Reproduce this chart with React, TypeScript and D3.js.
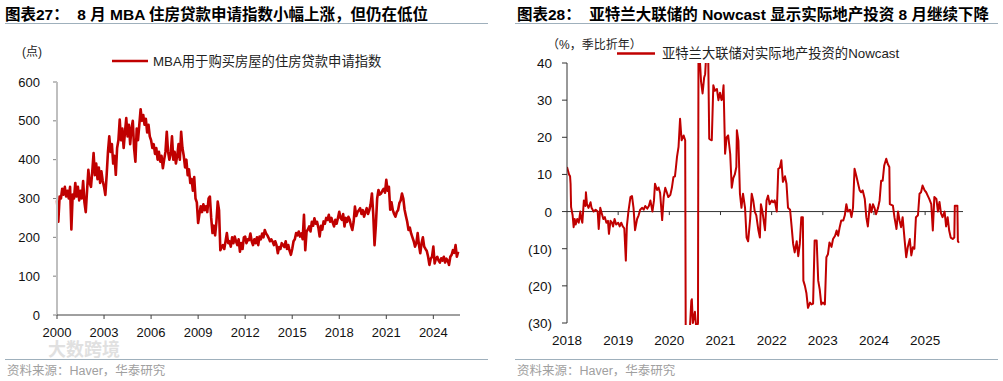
import React from 'react';
import * as d3 from 'd3';

// ---------- Left chart data: MBA purchase index (monthly) ----------
const mba2000 = [295, 240, 305, 300, 325, 310, 330, 305, 320, 300, 330, 220];
const mba2001 = [310, 300, 340, 305, 330, 295, 320, 300, 345, 290, 265, 320];
const mba2002 = [374, 340, 330, 370, 417, 360, 390, 350, 380, 340, 370, 345];
const mba2003 = [330, 309, 360, 420, 460, 420, 440, 390, 410, 361, 430, 450];
const mba2004 = [503, 450, 480, 430, 470, 507, 460, 490, 440, 480, 500, 430];
const mba2005 = [395, 480, 450, 490, 530, 500, 515, 490, 505, 470, 490, 460];
const mba2006 = [450, 430, 440, 415, 430, 400, 420, 395, 410, 378, 400, 420];
const mba2007 = [472, 420, 400, 415, 460, 400, 420, 390, 410, 440, 400, 472];
const mba2008 = [430, 410, 380, 400, 360, 375, 340, 350, 320, 355, 300, 290];
const mba2009 = [237, 260, 280, 265, 285, 270, 280, 265, 300, 305, 250, 211];
const mba2010 = [230, 205, 240, 292, 270, 167, 175, 180, 170, 190, 211, 185];
const mba2011 = [190, 176, 200, 185, 202, 190, 180, 195, 163, 185, 170, 200];
const mba2012 = [202, 185, 195, 193, 210, 190, 180, 195, 185, 200, 180, 202];
const mba2013 = [195, 210, 200, 219, 210, 205, 198, 190, 195, 189, 180, 190];
const mba2014 = [180, 159, 175, 170, 185, 180, 175, 190, 170, 180, 165, 155];
const mba2015 = [170, 190, 195, 211, 205, 215, 202, 210, 195, 258, 167, 215];
const mba2016 = [220, 228, 215, 240, 230, 249, 235, 240, 225, 202, 230, 220];
const mba2017 = [241, 235, 250, 245, 258, 240, 250, 238, 228, 245, 235, 250];
const mba2018 = [266, 250, 245, 260, 228, 250, 240, 253, 245, 230, 219, 240];
const mba2019 = [279, 255, 265, 270, 275, 260, 270, 253, 265, 275, 260, 270];
const mba2020 = [285, 313, 260, 180, 230, 300, 322, 310, 313, 320, 325, 315];
const mba2021 = [348, 320, 330, 271, 290, 270, 260, 253, 265, 270, 288, 295];
const mba2022 = [313, 300, 271, 255, 240, 219, 225, 210, 200, 190, 176, 185];
const mba2023 = [211, 180, 159, 185, 200, 176, 170, 165, 150, 129, 145, 150];
const mba2024 = [176, 133, 145, 150, 140, 135, 146, 140, 150, 135, 145, 140];
const mba2025 = [129, 150, 155, 167, 160, 180, 150, 163];

const mbaValues = [
  ...mba2000, ...mba2001, ...mba2002, ...mba2003, ...mba2004, ...mba2005, ...mba2006,
  ...mba2007, ...mba2008, ...mba2009, ...mba2010, ...mba2011, ...mba2012, ...mba2013,
  ...mba2014, ...mba2015, ...mba2016, ...mba2017, ...mba2018, ...mba2019, ...mba2020,
  ...mba2021, ...mba2022, ...mba2023, ...mba2024, ...mba2025,
];
const mbaStartYear = 2000;

const leftYTicks = [0, 100, 200, 300, 400, 500, 600];
const leftXTicks = [2000, 2003, 2006, 2009, 2012, 2015, 2018, 2021, 2024];

// ---------- Right chart data: Atlanta Fed nowcast of real residential investment ----------
const nowcastT = [
  2018.00, 2018.02, 2018.04, 2018.06, 2018.07, 2018.08, 2018.11, 2018.13, 2018.15, 2018.17,
  2018.20, 2018.23, 2018.26, 2018.28, 2018.30, 2018.33, 2018.36, 2018.37, 2018.39, 2018.42,
  2018.46, 2018.48, 2018.52, 2018.56, 2018.60, 2018.62, 2018.65, 2018.68, 2018.71, 2018.74,
  2018.77, 2018.80, 2018.82, 2018.85, 2018.88, 2018.90, 2018.93, 2018.96, 2019.00, 2019.03,
  2019.06, 2019.09, 2019.12, 2019.15, 2019.17, 2019.20, 2019.24, 2019.27, 2019.30, 2019.33,
  2019.37, 2019.40, 2019.43, 2019.47, 2019.50, 2019.53, 2019.57, 2019.60, 2019.63, 2019.67,
  2019.70, 2019.72, 2019.76, 2019.79, 2019.82, 2019.86, 2019.89, 2019.92, 2019.95, 2019.98,
  2020.02, 2020.05, 2020.08, 2020.11, 2020.13, 2020.15, 2020.18, 2020.21, 2020.24, 2020.28,
  2020.31, 2020.32, 2020.36, 2020.40, 2020.43, 2020.44, 2020.46, 2020.50, 2020.53, 2020.56,
  2020.57, 2020.60, 2020.62, 2020.65, 2020.68, 2020.70, 2020.72, 2020.76, 2020.78, 2020.81,
  2020.83, 2020.86, 2020.89, 2020.93, 2020.96, 2020.99, 2021.02, 2021.04, 2021.06, 2021.09,
  2021.12, 2021.15, 2021.19, 2021.22, 2021.25, 2021.28, 2021.31, 2021.32, 2021.35, 2021.38,
  2021.41, 2021.44, 2021.48, 2021.51, 2021.54, 2021.58, 2021.61, 2021.64, 2021.67, 2021.70,
  2021.74, 2021.77, 2021.79, 2021.82, 2021.87, 2021.90, 2021.93, 2021.96, 2022.00, 2022.03,
  2022.06, 2022.10, 2022.13, 2022.16, 2022.19, 2022.22, 2022.26, 2022.29, 2022.32, 2022.36,
  2022.39, 2022.42, 2022.45, 2022.49, 2022.52, 2022.55, 2022.58, 2022.61, 2022.62, 2022.65,
  2022.68, 2022.71, 2022.75, 2022.78, 2022.81, 2022.84, 2022.88, 2022.91, 2022.94, 2022.97,
  2023.00, 2023.04, 2023.07, 2023.10, 2023.13, 2023.17, 2023.20, 2023.24, 2023.27, 2023.30,
  2023.33, 2023.36, 2023.40, 2023.43, 2023.46, 2023.49, 2023.53, 2023.56, 2023.59, 2023.62,
  2023.66, 2023.69, 2023.72, 2023.75, 2023.78, 2023.82, 2023.85, 2023.88, 2023.92, 2023.95,
  2023.98, 2024.01, 2024.04, 2024.08, 2024.11, 2024.14, 2024.17, 2024.20, 2024.24, 2024.27,
  2024.30, 2024.31, 2024.37, 2024.40, 2024.44, 2024.47, 2024.50, 2024.53, 2024.56, 2024.60,
  2024.63, 2024.66, 2024.70, 2024.73, 2024.76, 2024.79, 2024.82, 2024.86, 2024.89, 2024.92,
  2024.95, 2024.99, 2025.02, 2025.05, 2025.08, 2025.12, 2025.15, 2025.18, 2025.22, 2025.25,
  2025.28, 2025.31, 2025.34, 2025.38, 2025.41, 2025.44, 2025.47, 2025.50, 2025.54, 2025.57,
  2025.58, 2025.63, 2025.64, 2025.66,
];
const nowcastV = [
  12, 11, 10, 9.5, 7.5, 1.2, -1, -4.2, -2, -3.5,
  -2, -3, 0, -2, -3, 3, 1.5, 5.2, 2, 1,
  2.5, 1, 0, 0.5, 0, -4.7, 1, -0.5, -2, -1.5,
  -3, -2.5, -6, -2.5, -3, -4, -2, -3.5, -3, -4,
  -3, -4, -4.5, -13.2, -4, 0, 3.9, 4.2, 1, -5,
  -2, -1, 0.5, 1, 0.5, 1.5, 0.8, 1.5, 3, 0,
  3, 7.5, 5.8, 6.5, 5, -2.3, 3.9, 6.4, 5.2, 3.9,
  4.5, 6.4, 9.3, 9.5, 12, 14.7, 17.4, 25, 19.2, 20.5,
  19.2, -32, -32, -32, -24, -23.6, -30, -27, -32, -30,
  45, 40, 35, 31.8, 36, 37, 42, 42, 19.6, 19.3,
  19.2, 34, 32.5, 33, 30, 32, 30, 31, 34, 15.6,
  20, 20.5, 15.5, 6.4, 9, 10, 12, 21.9, 19, 4.8,
  1, 4.8, 1, -7, -8, -2, 4.8, 3, 0, -1,
  -5, -7, 2, 0, -5, 3, 4.3, 2, 3, 2.5,
  3, 0, 11.5, 11.8, 13.8, 8, 9.5, 7.5, 1, 0.5,
  -4, -8.7, -11, -8, -12, -8.7, -1.5, -1.5, -18.6, -20,
  -22, -25.9, -24.5, -25, -24.8, -7.8, -7.8, -18.6, -21, -25,
  -24.5, -25, -12.3, -11.5, -8.3, -9.5, -7.4, -6.5, -5.1, -6.5,
  -4.2, -2.4, -2.4, -1, 2, 0, 0.5, -1.5, 1, 11.5,
  9.3, 7.5, 5.7, 5.2, 5.7, 3.4, -1.5, -4, 2, -0.2,
  2, 1, -0.7, 1, 3, 8.3, 8.3, 12.4, 14.2, 12.8,
  12, 2, 1.6, -1.5, -4.7, 0, -2.4, -4.2, -1.5, -7.8,
  -12.3, -9.6, -7.4, -11.8, -9.6, -10, -1.5, -1, 4.8, 5.2,
  7, 5.7, 5.2, 4.3, 3.4, 2, -5.1, 3.9, 3.4, 0,
  2.6, -0.5, -1.5, 0, -4, -1.5, -5.1, -7, -7.4, -7,
  1.6, 1.6, -8, -8.4,
];

const rightYTicks = [-30, -20, -10, 0, 10, 20, 30, 40];
const rightXTicks = [2018, 2019, 2020, 2021, 2022, 2023, 2024, 2025];

const RED = '#c00000';
const SANS = "'Liberation Sans', Arial, 'Noto Sans CJK SC', sans-serif";
const RULE = '#9fb0bc';

export default function App() {
  // Left scales
  const lx = d3.scaleLinear().domain([2000, 2025.7]).range([57, 460]);
  const ly = d3.scaleLinear().domain([0, 600]).range([315, 82]);
  const mbaPts: [number, number][] = mbaValues.map((v, i) => [mbaStartYear + i / 12, v]);
  const leftLine = d3.line<[number, number]>().x(d => lx(d[0])).y(d => ly(d[1]))(mbaPts) || '';

  // Right scales
  const rx = d3.scaleLinear().domain([2018, 2025.74]).range([567, 963]);
  const ry = d3.scaleLinear().domain([-30, 40]).range([323, 63]);
  const ncPts: [number, number][] = nowcastT.map((t, i) => [t, nowcastV[i]]);
  const rightLine = d3.line<[number, number]>().x(d => rx(d[0])).y(d => ry(d[1]))(ncPts) || '';

  const fmtR = (v: number) => (v < 0 ? `(${Math.abs(v)})` : `${v}`);

  return (
    <svg width={1003} height={381} style={{ position: 'absolute', left: 0, top: 0, background: '#fff' }}
      fontFamily={SANS}>
      <defs>
        <clipPath id="rclip">
          <rect x={567} y={ry(40)} width={400} height={ry(-30) - ry(40) + 2} />
        </clipPath>
      </defs>

      {/* ---------- Left panel ---------- */}
      <text x={5} y={20} fontSize={15.5} fontWeight="bold" fill="#000" style={{ whiteSpace: 'pre' }}>
        图表27：  8 月 MBA 住房贷款申请指数小幅上涨，但仍在低位
      </text>
      <line x1={5} x2={488} y1={23.5} y2={23.5} stroke={RULE} strokeWidth={1} />

      <text x={22} y={56} fontSize={12} fill="#222">(点)</text>
      <line x1={112} x2={148} y1={61} y2={61} stroke={RED} strokeWidth={2.5} />
      <text x={153} y={65.5} fontSize={13.3} fill="#222">MBA用于购买房屋的住房贷款申请指数</text>

      {leftYTicks.map(t => (
        <g key={'ly' + t}>
          <line x1={53} x2={57} y1={ly(t)} y2={ly(t)} stroke="#808080" strokeWidth={1} />
          <text x={40} y={ly(t) + 4.5} fontSize={13} textAnchor="end" fill="#111">{t}</text>
        </g>
      ))}
      {leftXTicks.map(t => (
        <g key={'lx' + t}>
          <line x1={lx(t)} x2={lx(t)} y1={315} y2={319} stroke="#404040" strokeWidth={1} />
          <text x={lx(t)} y={337} fontSize={13} textAnchor="middle" fill="#111">{t}</text>
        </g>
      ))}
      <path d={leftLine} fill="none" stroke={RED} strokeWidth={2.6} strokeLinejoin="round" />
      <line x1={57} x2={57} y1={ly(600)} y2={315} stroke="#bfbfbf" strokeWidth={2} />
      <line x1={57} x2={460} y1={315} y2={315} stroke="#404040" strokeWidth={1} />

      <text x={48} y={356} fontSize={18} fontWeight="bold" fill="#d4d4d4" opacity={0.7}>大数跨境</text>
      <line x1={5} x2={488} y1={359.5} y2={359.5} stroke={RULE} strokeWidth={1} />
      <text x={7} y={375} fontSize={12.5} fill="#a0a0a0">资料来源：Haver，华泰研究</text>

      {/* ---------- Right panel ---------- */}
      <text x={517} y={20} fontSize={15.5} fontWeight="bold" fill="#000" style={{ whiteSpace: 'pre' }}>
        图表28：  亚特兰大联储的 Nowcast 显示实际地产投资 8 月继续下降
      </text>
      <line x1={515} x2={998} y1={23.5} y2={23.5} stroke={RULE} strokeWidth={1} />

      <text x={547} y={49} fontSize={12} fill="#222">（%，季比折年）</text>
      <line x1={617} x2={655} y1={53.5} y2={53.5} stroke={RED} strokeWidth={2.5} />
      <text x={662} y={58} fontSize={13.3} fill="#222">亚特兰大联储对实际地产投资的Nowcast</text>

      {rightYTicks.map(t => (
        <g key={'ry' + t}>
          <line x1={562} x2={567} y1={ry(t)} y2={ry(t)} stroke="#333" strokeWidth={1} />
          <text x={552} y={ry(t) + 5} fontSize={13.5} textAnchor="end" fill="#111">{fmtR(t)}</text>
        </g>
      ))}
      {rightXTicks.map(t => (
        <g key={'rx' + t}>
          {t > 2018 && <line x1={rx(t)} x2={rx(t)} y1={ry(0)} y2={ry(0) + 3.5} stroke="#333" strokeWidth={1} />}
          <text x={rx(t)} y={345} fontSize={13.5} textAnchor="middle" fill="#111">{t}</text>
        </g>
      ))}
      <line x1={567} x2={963} y1={ry(0)} y2={ry(0)} stroke="#333" strokeWidth={1} />
      <path d={rightLine} fill="none" stroke={RED} strokeWidth={2} strokeLinejoin="round" clipPath="url(#rclip)" />
      <line x1={567} x2={567} y1={ry(40)} y2={ry(-30)} stroke="#333" strokeWidth={1} />

      <line x1={515} x2={998} y1={359.5} y2={359.5} stroke={RULE} strokeWidth={1} />
      <text x={517} y={375} fontSize={12.5} fill="#a0a0a0">资料来源：Haver，华泰研究</text>
    </svg>
  );
}
